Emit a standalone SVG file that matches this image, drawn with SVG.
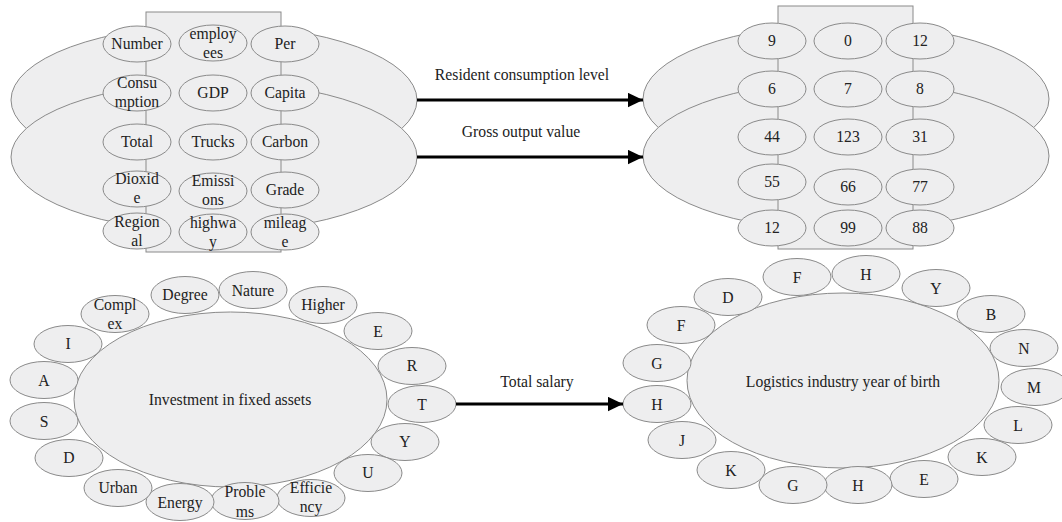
<svg xmlns="http://www.w3.org/2000/svg" width="1062" height="522" viewBox="0 0 1062 522">
<defs>
<style>
.sh{fill:#eeeeef;stroke:#8a8a8a;stroke-width:1}
text{font-family:"Liberation Serif","Times New Roman",serif;font-size:15.7px;fill:#222;text-anchor:middle}
.ar{stroke:#000;stroke-width:3;fill:none}
</style>
<marker id="ah" markerWidth="5" markerHeight="5" refX="4.6" refY="2.2" orient="auto" markerUnits="strokeWidth" viewBox="0 0 4.6 4.4">
<path d="M0,0 L4.6,2.2 L0,4.4 Z" fill="#000"/>
</marker>
</defs>
<rect width="1062" height="522" fill="#fff"/>

<g id="group-tl">
<ellipse class="sh" cx="214" cy="100" rx="203" ry="75"/>
<ellipse class="sh" cx="214" cy="157" rx="203" ry="75"/>
<rect class="sh" x="146" y="12" width="135" height="240"/>
<g id="tl-number"><ellipse class="sh" cx="137" cy="44" rx="34" ry="18"/><text x="137" y="49">Number</text></g>
<g id="tl-employees"><ellipse class="sh" cx="213" cy="43" rx="34" ry="18"/><text x="213" y="39">employ</text><text x="213" y="58">ees</text></g>
<g id="tl-per"><ellipse class="sh" cx="285" cy="44" rx="34" ry="18"/><text x="285" y="49">Per</text></g>
<g id="tl-consumption"><ellipse class="sh" cx="137" cy="93" rx="34" ry="18"/><text x="137" y="88">Consu</text><text x="137" y="107">mption</text></g>
<g id="tl-gdp"><ellipse class="sh" cx="213" cy="93" rx="34" ry="18"/><text x="213" y="98">GDP</text></g>
<g id="tl-capita"><ellipse class="sh" cx="285" cy="93" rx="34" ry="18"/><text x="285" y="98">Capita</text></g>
<g id="tl-total"><ellipse class="sh" cx="137" cy="142" rx="34" ry="18"/><text x="137" y="147">Total</text></g>
<g id="tl-trucks"><ellipse class="sh" cx="213" cy="142" rx="34" ry="18"/><text x="213" y="147">Trucks</text></g>
<g id="tl-carbon"><ellipse class="sh" cx="285" cy="142" rx="34" ry="18"/><text x="285" y="147">Carbon</text></g>
<g id="tl-dioxide"><ellipse class="sh" cx="137" cy="189" rx="34" ry="18"/><text x="137" y="184">Dioxid</text><text x="137" y="203">e</text></g>
<g id="tl-emissions"><ellipse class="sh" cx="213" cy="191" rx="34" ry="18"/><text x="213" y="186">Emissi</text><text x="213" y="205">ons</text></g>
<g id="tl-grade"><ellipse class="sh" cx="285" cy="190" rx="34" ry="18"/><text x="285" y="195">Grade</text></g>
<g id="tl-regional"><ellipse class="sh" cx="137" cy="231" rx="34" ry="18"/><text x="137" y="227">Region</text><text x="137" y="246">al</text></g>
<g id="tl-highway"><ellipse class="sh" cx="213" cy="232" rx="34" ry="18"/><text x="213" y="228">highwa</text><text x="213" y="247">y</text></g>
<g id="tl-mileage"><ellipse class="sh" cx="285" cy="232" rx="34" ry="18"/><text x="285" y="228">mileag</text><text x="285" y="247">e</text></g>
</g>

<g id="group-tr">
<ellipse class="sh" cx="846" cy="99" rx="203" ry="75"/>
<ellipse class="sh" cx="846" cy="156" rx="203" ry="75"/>
<rect class="sh" x="778" y="6" width="135" height="243"/>
<g id="tr-9"><ellipse class="sh" cx="772" cy="41" rx="34" ry="18"/><text x="772" y="46">9</text></g>
<g id="tr-0"><ellipse class="sh" cx="848" cy="41" rx="34" ry="18"/><text x="848" y="46">0</text></g>
<g id="tr-12a"><ellipse class="sh" cx="920" cy="41" rx="34" ry="18"/><text x="920" y="46">12</text></g>
<g id="tr-6"><ellipse class="sh" cx="772" cy="89" rx="34" ry="18"/><text x="772" y="94">6</text></g>
<g id="tr-7"><ellipse class="sh" cx="848" cy="89" rx="34" ry="18"/><text x="848" y="94">7</text></g>
<g id="tr-8"><ellipse class="sh" cx="920" cy="89" rx="34" ry="18"/><text x="920" y="94">8</text></g>
<g id="tr-44"><ellipse class="sh" cx="772" cy="137" rx="34" ry="18"/><text x="772" y="142">44</text></g>
<g id="tr-123"><ellipse class="sh" cx="848" cy="137" rx="34" ry="18"/><text x="848" y="142">123</text></g>
<g id="tr-31"><ellipse class="sh" cx="920" cy="137" rx="34" ry="18"/><text x="920" y="142">31</text></g>
<g id="tr-55"><ellipse class="sh" cx="772" cy="182" rx="34" ry="18"/><text x="772" y="187">55</text></g>
<g id="tr-66"><ellipse class="sh" cx="848" cy="187" rx="34" ry="18"/><text x="848" y="192">66</text></g>
<g id="tr-77"><ellipse class="sh" cx="920" cy="187" rx="34" ry="18"/><text x="920" y="192">77</text></g>
<g id="tr-12b"><ellipse class="sh" cx="772" cy="228" rx="34" ry="18"/><text x="772" y="233">12</text></g>
<g id="tr-99"><ellipse class="sh" cx="848" cy="228" rx="34" ry="18"/><text x="848" y="233">99</text></g>
<g id="tr-88"><ellipse class="sh" cx="920" cy="228" rx="34" ry="18"/><text x="920" y="233">88</text></g>
</g>

<g id="group-bl">
<g id="bl-center"><ellipse class="sh" cx="230.5" cy="399.5" rx="156.5" ry="87.5"/><text x="230" y="405">Investment in fixed assets</text></g>
<g id="bl-complex"><ellipse class="sh" cx="115" cy="314" rx="34" ry="18.5"/><text x="115" y="310">Compl</text><text x="115" y="329">ex</text></g>
<g id="bl-degree"><ellipse class="sh" cx="185" cy="295" rx="34" ry="18.5"/><text x="185" y="300">Degree</text></g>
<g id="bl-nature"><ellipse class="sh" cx="253" cy="290" rx="34" ry="18.5"/><text x="253" y="296">Nature</text></g>
<g id="bl-higher"><ellipse class="sh" cx="323" cy="305" rx="34" ry="18.5"/><text x="323" y="310">Higher</text></g>
<g id="bl-e"><ellipse class="sh" cx="378" cy="331" rx="34" ry="18.5"/><text x="378" y="337">E</text></g>
<g id="bl-r"><ellipse class="sh" cx="412" cy="366" rx="34" ry="18.5"/><text x="412" y="371">R</text></g>
<g id="bl-t"><ellipse class="sh" cx="422" cy="404" rx="34" ry="18.5"/><text x="422" y="410">T</text></g>
<g id="bl-y"><ellipse class="sh" cx="405" cy="442" rx="34" ry="18.5"/><text x="405" y="447">Y</text></g>
<g id="bl-u"><ellipse class="sh" cx="368" cy="473" rx="34" ry="18.5"/><text x="368" y="478">U</text></g>
<g id="bl-efficiency"><ellipse class="sh" cx="311" cy="498" rx="34" ry="18.5"/><text x="311" y="493">Efficie</text><text x="311" y="512">ncy</text></g>
<g id="bl-problems"><ellipse class="sh" cx="245" cy="501" rx="34" ry="18.5"/><text x="245" y="497">Proble</text><text x="245" y="517">ms</text></g>
<g id="bl-energy"><ellipse class="sh" cx="180" cy="502" rx="34" ry="18.5"/><text x="180" y="508">Energy</text></g>
<g id="bl-urban"><ellipse class="sh" cx="118" cy="488" rx="34" ry="18.5"/><text x="118" y="493">Urban</text></g>
<g id="bl-d"><ellipse class="sh" cx="69" cy="458" rx="34" ry="18.5"/><text x="69" y="463">D</text></g>
<g id="bl-s"><ellipse class="sh" cx="44" cy="421" rx="34" ry="18.5"/><text x="44" y="427">S</text></g>
<g id="bl-a"><ellipse class="sh" cx="44" cy="380" rx="34" ry="18.5"/><text x="44" y="386">A</text></g>
<g id="bl-i"><ellipse class="sh" cx="68" cy="344" rx="34" ry="18.5"/><text x="68" y="349">I</text></g>
</g>

<g id="group-br">
<g id="br-center"><ellipse class="sh" cx="843" cy="380.5" rx="156" ry="87.5"/><text x="843" y="387">Logistics industry year of birth</text></g>
<g id="br-f1"><ellipse class="sh" cx="797" cy="277" rx="34" ry="18.5"/><text x="797" y="283">F</text></g>
<g id="br-h1"><ellipse class="sh" cx="866" cy="274" rx="34" ry="18.5"/><text x="866" y="280">H</text></g>
<g id="br-y"><ellipse class="sh" cx="936" cy="288" rx="34" ry="18.5"/><text x="936" y="294">Y</text></g>
<g id="br-b"><ellipse class="sh" cx="991" cy="314" rx="34" ry="18.5"/><text x="991" y="320">B</text></g>
<g id="br-n"><ellipse class="sh" cx="1024" cy="348" rx="34" ry="18.5"/><text x="1024" y="354">N</text></g>
<g id="br-m"><ellipse class="sh" cx="1035" cy="387" rx="34" ry="18.5"/><text x="1034" y="393">M</text></g>
<g id="br-l"><ellipse class="sh" cx="1018" cy="425" rx="34" ry="18.5"/><text x="1018" y="431">L</text></g>
<g id="br-k1"><ellipse class="sh" cx="982" cy="457" rx="34" ry="18.5"/><text x="982" y="463">K</text></g>
<g id="br-e"><ellipse class="sh" cx="924" cy="479" rx="34" ry="18.5"/><text x="924" y="485">E</text></g>
<g id="br-h2"><ellipse class="sh" cx="858" cy="485" rx="34" ry="18.5"/><text x="858" y="491">H</text></g>
<g id="br-g1"><ellipse class="sh" cx="793" cy="485" rx="34" ry="18.5"/><text x="793" y="491">G</text></g>
<g id="br-k2"><ellipse class="sh" cx="731" cy="470" rx="34" ry="18.5"/><text x="731" y="476">K</text></g>
<g id="br-j"><ellipse class="sh" cx="682" cy="440" rx="34" ry="18.5"/><text x="682" y="446">J</text></g>
<g id="br-h3"><ellipse class="sh" cx="657" cy="404" rx="34" ry="18.5"/><text x="657" y="410">H</text></g>
<g id="br-g2"><ellipse class="sh" cx="657" cy="363" rx="34" ry="18.5"/><text x="657" y="369">G</text></g>
<g id="br-f2"><ellipse class="sh" cx="681" cy="325" rx="34" ry="18.5"/><text x="681" y="331">F</text></g>
<g id="br-d"><ellipse class="sh" cx="728" cy="297" rx="34" ry="18.5"/><text x="728" y="303">D</text></g>
</g>

<g id="connectors">
<line class="ar" x1="417" y1="100" x2="643" y2="100" marker-end="url(#ah)"/>
<line class="ar" x1="417" y1="157" x2="643" y2="157" marker-end="url(#ah)"/>
<line class="ar" x1="456" y1="404" x2="623" y2="404" marker-end="url(#ah)"/>
<text x="522" y="80">Resident consumption level</text>
<text x="521" y="137">Gross output value</text>
<text x="537" y="387">Total salary</text>
</g>
</svg>
